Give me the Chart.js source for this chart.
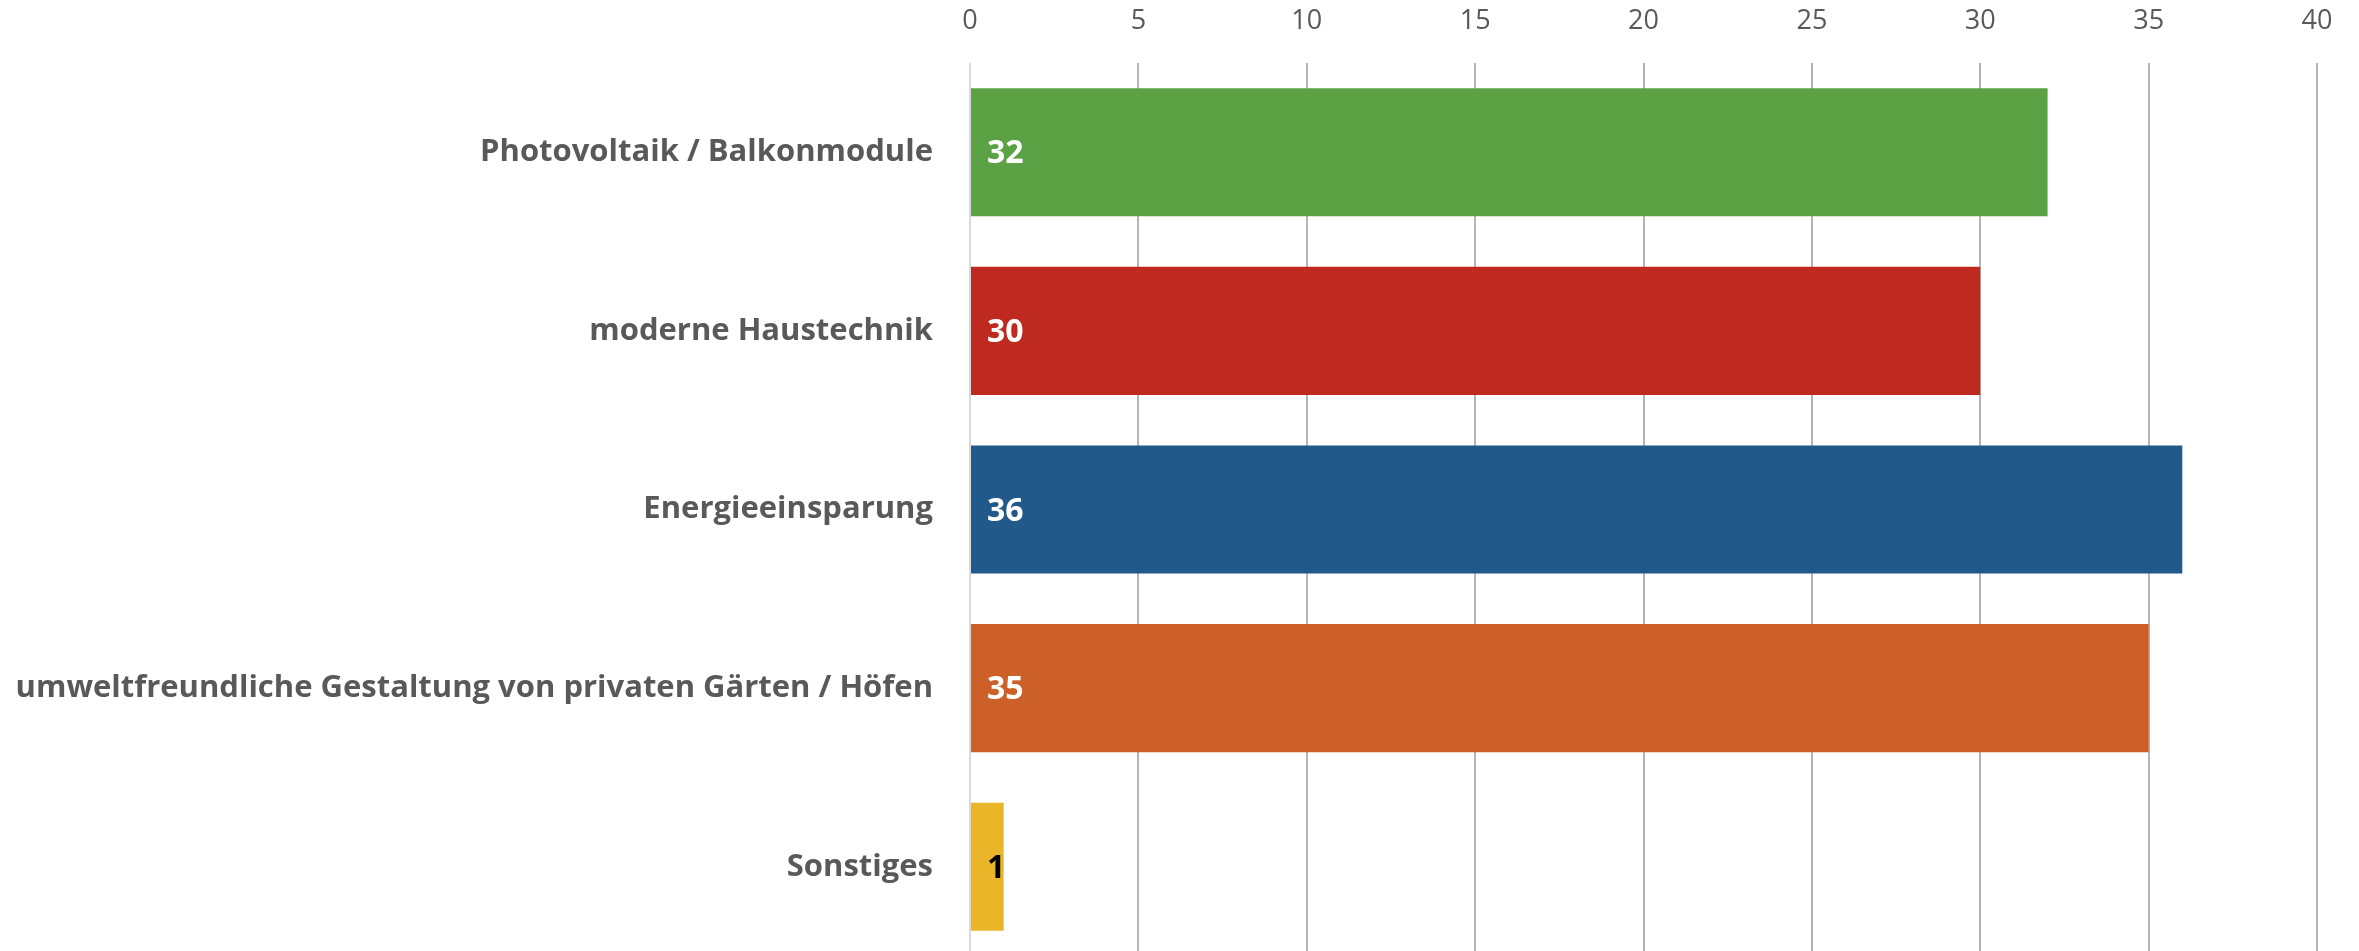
<!DOCTYPE html>
<html>
<head>
<meta charset="utf-8">
<script src="https://cdn.jsdelivr.net/npm/chart.js@4"></script>
<style>
	html, body { margin: 0; padding: 0; background: #ffffff; overflow: hidden; }
	#wrap { width: 2359px; height: 956px; }
</style>
</head>
<body>
<div id="wrap"><canvas id="myChart"></canvas></div>
<script>
"use strict";

const labels = [
	"Photovoltaik / Balkonmodule",
	"moderne Haustechnik",
	"Energieeinsparung",
	"umweltfreundliche Gestaltung von privaten Gärten / Höfen",
	"Sonstiges",
];
const values = [32, 30, 36, 35, 1];
const barColors = ["#5ba244", "#be2a1f", "#22598b", "#cd6029", "#e8b628"];
const valueColors = ["#ffffff", "#ffffff", "#ffffff", "#ffffff", "#000000"];
const xTicks = { min: 0, max: 40, step: 5 };

// simple value labels at the base of each bar
const valueLabels = {
	id: "valueLabels",
	afterDatasetsDraw(chart) {
		const ctx = chart.ctx;
		const meta = chart.getDatasetMeta(0);
		ctx.save();
		ctx.font = "bold 32px 'Open Sans'";
		ctx.textAlign = "left";
		ctx.textBaseline = "middle";
		meta.data.forEach(function (bar, i) {
			ctx.fillStyle = valueColors[i];
			ctx.fillText(String(values[i]), bar.base + 16, bar.y + 2);
		});
		ctx.restore();
	},
};

function generateChart() {
	const ctx = document.getElementById("myChart");

	new Chart(ctx, {
		type: "bar",
		data: {
			labels: labels,
			datasets: [
				{
					data: values,
					backgroundColor: barColors,
					borderWidth: 0,
					barPercentage: 0.717,
					categoryPercentage: 1,
				},
			],
		},
		options: {
			indexAxis: "y",
			responsive: true,
			maintainAspectRatio: false,
			animation: false,
			layout: {
				padding: { top: 6, right: 42, bottom: 0, left: 0 },
			},
			plugins: {
				legend: { display: false },
				tooltip: { enabled: false },
			},
			scales: {
				x: {
					position: "top",
					min: xTicks.min,
					max: xTicks.max,
					afterFit: function (scale) {
						scale.height = 57;
					},
					ticks: {
						stepSize: xTicks.step,
						padding: 25,
						color: "#595959",
						font: { family: "'Open Sans'", size: 27 },
					},
					grid: {
						drawTicks: false,
						lineWidth: 2,
						color: function (c) {
							return c.tick && c.tick.value === 0 ? "#d9d9d9" : "#b4b4b4";
						},
					},
					border: { display: false },
				},
				y: {
					afterFit: function (scale) {
						scale.width = 970;
						scale.paddingTop = 0;
						scale.paddingBottom = 0;
					},
					ticks: {
						padding: 37,
						color: "#595959",
						font: { family: "'Open Sans'", size: 31, weight: "bold" },
					},
					grid: { display: false, drawTicks: false },
					border: { display: false },
				},
			},
		},
		plugins: [valueLabels],
	});
}

generateChart();
</script>
</body>
</html>
